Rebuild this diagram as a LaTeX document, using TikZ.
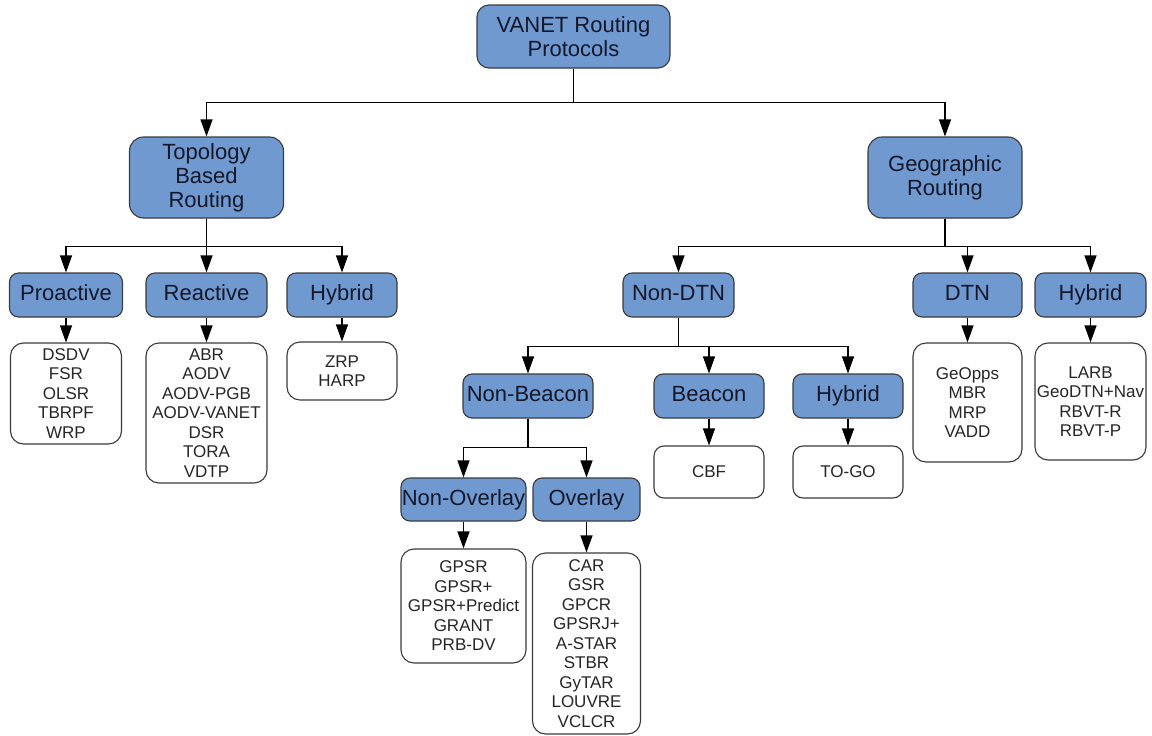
\documentclass[tikz,border=0pt]{standalone}
\usepackage{fontspec}
\setmainfont{Liberation Sans}
\usetikzlibrary{arrows.meta}
\definecolor{catfill}{HTML}{7099D0}
\definecolor{edgegray}{HTML}{3A3A3A}
\definecolor{inkdark}{HTML}{14182A}
\begin{document}
\begin{tikzpicture}[x=1pt,y=-1pt,
  cat/.style={draw=edgegray, line width=1.1pt, fill=catfill, rounded corners=9pt,
    inner sep=0pt, align=center, text=inkdark,
    font=\fontsize{22}{24}\selectfont},
  single/.style={text height=15.5pt, text depth=4.5pt},
  proto/.style={draw=edgegray, line width=1.1pt, fill=white, rounded corners=13pt,
    inner sep=0pt, align=center, text=black!85,
    font=\fontsize{17}{19.5}\selectfont},
  link/.style={draw=black, line width=1.1pt, -{Triangle[width=12pt,length=17pt]}},
  bx/.style 2 args={minimum width=#1pt, minimum height=#2pt}]
\useasboundingbox (0,0) rectangle (1152,736);

% root
\node[cat, bx={193}{63}, rounded corners=12pt] (root) at (573.5,36.5) {VANET Routing\\Protocols};

% first level
\node[cat, bx={154}{81}, rounded corners=14pt] (topo) at (206.5,177.5) {Topology\\Based\\Routing};
\node[cat, bx={154}{81}, rounded corners=14pt] (geo) at (945,177.5) {Geographic\\Routing};

% topology based branch
\node[cat, single, bx={113}{44}] (pro) at (66,295) {Proactive};
\node[cat, single, bx={121}{44}] (rea) at (206.5,295) {Reactive};
\node[cat, single, bx={110}{44}] (thyb) at (342,295) {Hybrid};

\node[proto, bx={111}{101}] (prolist) at (66,393.5) {DSDV\\FSR\\OLSR\\TBRPF\\WRP};
\node[proto, bx={121}{140}] (realist) at (206.5,413) {ABR\\AODV\\AODV-PGB\\AODV-VANET\\DSR\\TORA\\VDTP};
\node[proto, bx={110}{58}] (thyblist) at (342,371) {ZRP\\HARP};

% geographic branch
\node[cat, single, bx={111}{44}] (ndtn) at (678.5,295) {Non-DTN};
\node[cat, single, bx={109}{44}] (dtn) at (967.5,295) {DTN};
\node[cat, single, bx={111}{44}] (ghyb) at (1090.5,295) {Hybrid};

\node[proto, bx={109}{119}] (dtnlist) at (967.5,402.5) {GeOpps\\MBR\\MRP\\VADD};
\node[proto, bx={111}{117}] (ghyblist) at (1090.5,401.5) {LARB\\GeoDTN+Nav\\RBVT-R\\RBVT-P};

% non-DTN branch
\node[cat, single, bx={130}{44}] (nbea) at (528,396) {Non-Beacon};
\node[cat, single, bx={110}{44}] (bea) at (709,396) {Beacon};
\node[cat, single, bx={110}{44}] (nhyb) at (848,396) {Hybrid};

\node[proto, bx={110}{52}, rounded corners=10pt] (bealist) at (709,472) {CBF};
\node[proto, bx={110}{52}, rounded corners=10pt] (nhyblist) at (848,472) {TO-GO};

% non-beacon branch
\node[cat, single, bx={125}{43}] (novl) at (463.5,499.5) {Non-Overlay};
\node[cat, single, bx={107}{43}] (ovl) at (586.5,499.5) {Overlay};

\node[proto, bx={125}{114}] (novllist) at (463.5,606) {GPSR\\GPSR+\\GPSR+Predict\\GRANT\\PRB-DV};
\node[proto, bx={108}{181}] (ovllist) at (586.5,643.5) {CAR\\GSR\\GPCR\\GPSRJ+\\A-STAR\\STBR\\GyTAR\\LOUVRE\\VCLCR};

% tree connectors
\draw[link] (root.south) -- ++(0,34) -| (topo.north);
\draw[link] (root.south) -- ++(0,34) -| (geo.north);

\draw[link] (topo.south) -- ++(0,28) -| (pro.north);
\draw[link] (topo.south) -- (rea.north);
\draw[link] (topo.south) -- ++(0,28) -| (thyb.north);

\draw[link] (geo.south) -- ++(0,28) -| (ndtn.north);
\draw[link] (geo.south) -- ++(0,28) -| (dtn.north);
\draw[link] (geo.south) -- ++(0,28) -| (ghyb.north);

\draw[link] (ndtn.south) -- ++(0,29) -| (nbea.north);
\draw[link] (ndtn.south) -- ++(0,29) -| (bea.north);
\draw[link] (ndtn.south) -- ++(0,29) -| (nhyb.north);

\draw[link] (nbea.south) -- ++(0,29) -| (novl.north);
\draw[link] (nbea.south) -- ++(0,29) -| (ovl.north);

% category to protocol lists
\draw[link] (pro.south) -- (prolist.north);
\draw[link] (rea.south) -- (realist.north);
\draw[link] (thyb.south) -- (thyblist.north);
\draw[link] (dtn.south) -- (dtnlist.north);
\draw[link] (ghyb.south) -- (ghyblist.north);
\draw[link] (bea.south) -- (bealist.north);
\draw[link] (nhyb.south) -- (nhyblist.north);
\draw[link] (novl.south) -- (novllist.north);
\draw[link] (ovl.south) -- (ovllist.north);
\end{tikzpicture}
\end{document}
